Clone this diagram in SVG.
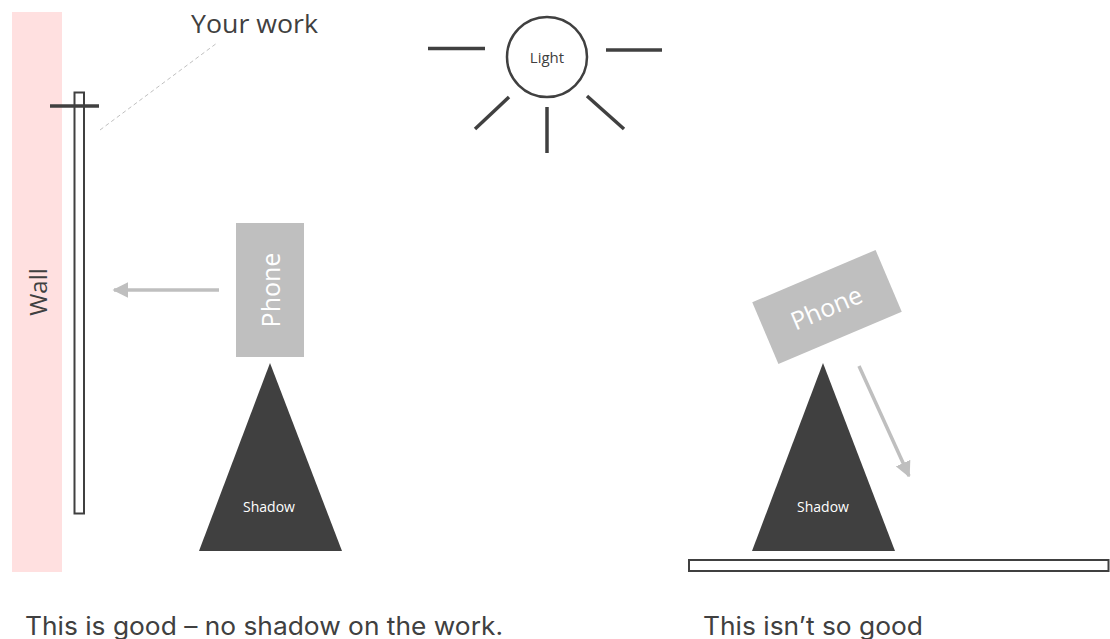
<svg xmlns="http://www.w3.org/2000/svg" width="1110" height="639" viewBox="0 0 1110 639">
<defs>
<style>
.dark{stroke:#404040;stroke-width:3.5;fill:none}
.board{stroke:#404040;stroke-width:2;fill:#fff}
.phone{fill:#BFBFBF}
.shadow{fill:#404040}
.ptxt{font-family:"Open Sans","Noto Sans",sans-serif;font-size:25px;fill:#fff;text-anchor:middle;dominant-baseline:central}
.stxt{font-family:"Open Sans","Noto Sans",sans-serif;font-size:14px;fill:#fff;text-anchor:middle}
.lbl{font-family:"Open Sans","Noto Sans",sans-serif;fill:#404040}
.cap{font-family:"Inter","Noto Sans",sans-serif;font-size:25px;fill:#404040}
.arr{stroke:#BFBFBF;stroke-width:3.5;fill:none}
</style>
<marker id="ah" viewBox="0 0 10 10" refX="9" refY="5" markerWidth="4.5" markerHeight="4.5" orient="auto" markerUnits="strokeWidth">
<path d="M0,0 L10,5 L0,10 z" fill="#BFBFBF"/>
</marker>
</defs>
<rect width="1110" height="639" fill="#fff"/>

<g id="wall">
<rect x="12" y="12" width="50" height="560" fill="#FFE0E0"/>
<text class="lbl" font-size="24" text-anchor="middle" dominant-baseline="central" transform="translate(37,292) rotate(-90)">Wall</text>
</g>

<g id="your-work">
<rect class="board" x="74.5" y="92.5" width="9.5" height="421"/>
<line class="dark" x1="50" y1="106" x2="99" y2="106"/>
<text class="lbl" font-size="26" x="191" y="33" textLength="127" lengthAdjust="spacingAndGlyphs">Your work</text>
</g>

<g id="light">
<circle cx="547" cy="57" r="40" fill="#fff" stroke="#404040" stroke-width="2.5"/>
<text class="lbl" font-size="15" x="547" y="57" text-anchor="middle" dominant-baseline="central">Light</text>
<line class="dark" x1="428" y1="48.5" x2="485" y2="48.5"/>
<line class="dark" x1="606" y1="50" x2="662" y2="50"/>
<line class="dark" x1="509" y1="97" x2="475" y2="129"/>
<line class="dark" x1="547" y1="107" x2="547" y2="153"/>
<line class="dark" x1="587" y1="96" x2="624" y2="129"/>
</g>

<g id="phone-left">
<rect class="phone" x="236" y="223" width="68" height="134"/>
<text class="ptxt" transform="translate(270,290) rotate(-90)">Phone</text>
</g>

<g id="shadow-left">
<polygon class="shadow" points="270,363 342,551 199,551"/>
<text class="stxt" x="269" y="512">Shadow</text>
</g>

<g id="phone-right">
<rect class="phone" x="-67" y="-33.5" width="134" height="67" transform="translate(827,307) rotate(-23)"/>
<text class="ptxt" transform="translate(826,307) rotate(-23)">Phone</text>
</g>

<g id="shadow-right">
<polygon class="shadow" points="823,363 895,551 752,551"/>
<text class="stxt" x="823" y="512">Shadow</text>
</g>

<g id="floor">
<rect class="board" x="689" y="560" width="419.5" height="11"/>
</g>

<g id="connectors">
<line class="arr" x1="219" y1="290" x2="114" y2="290" marker-end="url(#ah)"/>
<line class="dark" x1="100" y1="130" x2="217" y2="43" style="stroke:#C0C0C0;stroke-width:1;stroke-dasharray:4,3"/>
<line class="arr" x1="859" y1="366" x2="909" y2="476" marker-end="url(#ah)"/>
</g>

<g id="captions">
<text class="cap" x="25" y="635" textLength="478" lengthAdjust="spacingAndGlyphs">This is good – no shadow on the work.</text>
<text class="cap" x="703" y="635" textLength="220" lengthAdjust="spacingAndGlyphs">This isn’t so good</text>
</g>
</svg>
